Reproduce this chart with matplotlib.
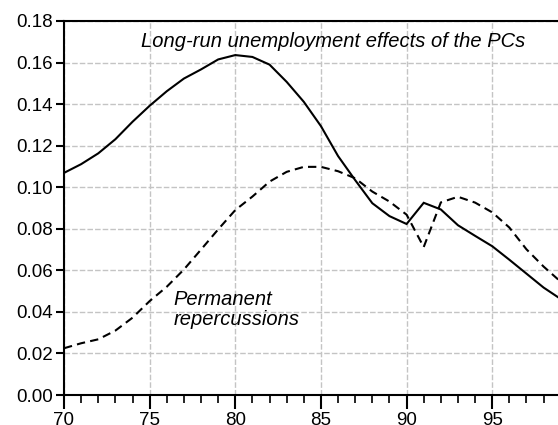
import matplotlib
matplotlib.use("Agg")
import matplotlib.pyplot as plt
import numpy as np
from matplotlib.ticker import MultipleLocator, FormatStrFormatter

plt.rcParams['font.family'] = ['Liberation Sans', 'DejaVu Sans']

years = list(range(70, 100))
long_run = [0.1069, 0.1111, 0.1163, 0.1231, 0.1315, 0.1392, 0.1462, 0.1523, 0.1567, 0.1615,
            0.1636, 0.1627, 0.1590, 0.1507, 0.1411, 0.1294, 0.1150, 0.1034, 0.0923, 0.0861,
            0.0823, 0.0925, 0.0893, 0.0817, 0.0766, 0.0716, 0.0651, 0.0584, 0.0517, 0.0462]
permanent = [0.0225, 0.0249, 0.0268, 0.0310, 0.0372, 0.0452, 0.0521, 0.0604, 0.0700, 0.0797,
             0.0890, 0.0955, 0.1027, 0.1074, 0.1098, 0.1098, 0.1077, 0.1043, 0.0979, 0.0931,
             0.0868, 0.0712, 0.0927, 0.0954, 0.0926, 0.0879, 0.0806, 0.0701, 0.0618, 0.0545]

label_long = "Long-run unemployment effects of the PCs"
label_perm = "Permanent\nrepercussions"

W, H = 558, 425
fig = plt.figure(figsize=(W/100, H/100), dpi=100)
ax = fig.add_axes([64/W, 1-395/H, 1-64/W + 0.01, (395-21)/H])

ax.plot(years, long_run, color='black', lw=1.5, solid_joinstyle='miter')
ax.plot(years, permanent, color='black', lw=1.5, linestyle=(0, (4, 2.5)))

ax.set_xlim(70, 98.84 + 0.01*W/17.13)
ax.set_ylim(0, 0.18)
ax.xaxis.set_major_locator(MultipleLocator(5))
ax.xaxis.set_minor_locator(MultipleLocator(1))
ax.yaxis.set_major_locator(MultipleLocator(0.02))
ax.yaxis.set_major_formatter(FormatStrFormatter('%.2f'))

ax.grid(True, which='major', color='#c4c4c4', linestyle=(0, (4, 1.5)), lw=1)
ax.set_axisbelow(True)

for s in ['left', 'top', 'bottom']:
    ax.spines[s].set_linewidth(1.5)
    ax.spines[s].set_color('black')
ax.spines['right'].set_visible(False)

ax.tick_params(axis='x', which='major', direction='out', length=10, width=1.5, labelsize=13.5, pad=2)
ax.tick_params(axis='x', which='minor', direction='out', length=6, width=1.2)
ax.tick_params(axis='y', which='major', direction='out', length=6, width=1.5, labelsize=13.5, pad=2)

fig.text(141/W, 1-47/H, label_long, fontsize=14.5, style='italic', va='baseline', ha='left')
ax.text(76.4, 0.041, label_perm, fontsize=14.5, style='italic', va='center', ha='left', linespacing=1.05)

fig.savefig("out.png", dpi=100)
